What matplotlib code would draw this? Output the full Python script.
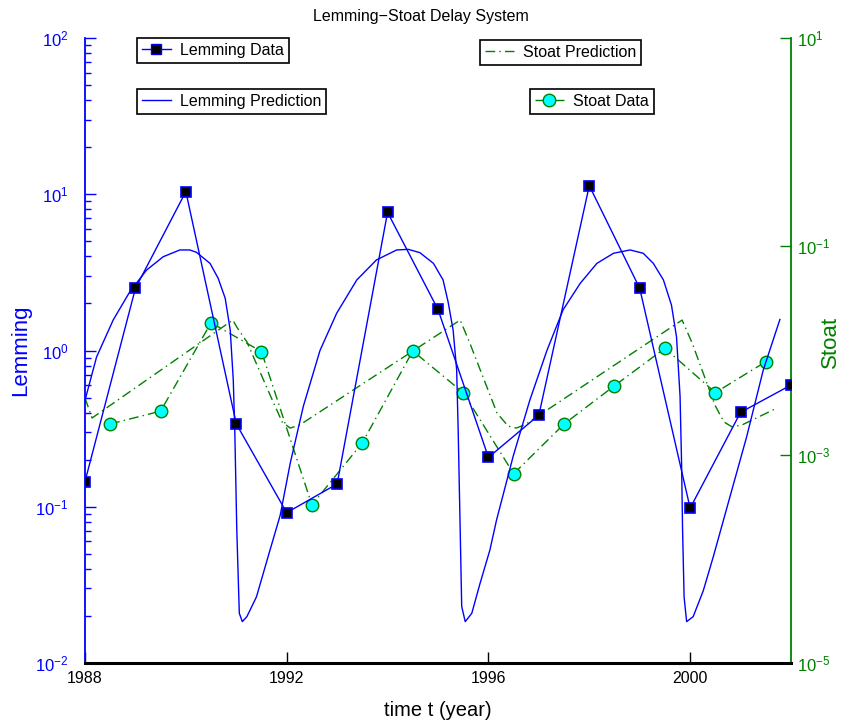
import matplotlib
matplotlib.use("Agg")
import matplotlib.pyplot as plt
from matplotlib.lines import Line2D
from matplotlib.ticker import FixedLocator, FixedFormatter, NullLocator, NullFormatter, LogLocator

plt.rcParams["font.family"] = ["Liberation Sans", "DejaVu Sans"]
plt.rcParams["mathtext.fontset"] = "custom"
plt.rcParams["mathtext.rm"] = "Liberation Sans"
plt.rcParams["mathtext.it"] = "Liberation Sans:italic"

# ---------------------------------------------------
# data
# ---------------------------------------------------
lemming_years = list(range(1988, 2003))
lemming_data = [0.145, 2.50, 10.4, 0.339, 0.0916, 0.140, 7.66, 1.83,
                0.207, 0.386, 11.35, 2.50, 0.098, 0.402, 0.601]

stoat_years = [1988.5 + i for i in range(14)]
stoat_data = [0.00197, 0.00262, 0.0185, 0.00975, 0.000329, 0.00130, 0.0099,
              0.00394, 0.000656, 0.00197, 0.00459, 0.0105, 0.00394, 0.00781]

lem_pred_t = [1988.00, 1988.23, 1988.56, 1988.89, 1989.22, 1989.55, 1989.88,
              1990.08, 1990.21, 1990.48, 1990.64, 1990.78, 1990.88, 1990.94,
              1990.97, 1991.01, 1991.06, 1991.12, 1991.21, 1991.40, 1991.67,
              1991.87, 1992.07, 1992.33, 1992.66, 1992.99, 1993.39, 1993.78,
              1994.18, 1994.41, 1994.64, 1994.91, 1995.10, 1995.20, 1995.30,
              1995.37, 1995.40, 1995.44, 1995.47, 1995.54, 1995.67, 1995.83,
              1996.03, 1996.16, 1996.49, 1996.82, 1997.16, 1997.48, 1997.82,
              1998.15, 1998.48, 1998.81, 1999.07, 1999.27, 1999.47, 1999.63,
              1999.73, 1999.80, 1999.83, 1999.85, 1999.88, 1999.93, 2000.06,
              2000.26, 2000.46, 2000.79, 2001.12, 2001.45, 2001.78]
lem_pred_v = [0.48, 0.91, 1.57, 2.38, 3.27, 3.98, 4.40,
              4.40, 4.25, 3.61, 2.90, 2.16, 1.35, 0.65,
              0.31, 0.071, 0.0208, 0.0184, 0.0198, 0.0265, 0.053,
              0.088, 0.19, 0.44, 1.00, 1.73, 2.83, 3.80,
              4.40, 4.44, 4.23, 3.61, 2.83, 2.05, 1.35,
              0.75, 0.31, 0.071, 0.023, 0.0184, 0.0208, 0.032,
              0.053, 0.082, 0.21, 0.48, 1.00, 1.82, 2.69,
              3.61, 4.19, 4.40, 4.19, 3.61, 2.83, 1.95,
              1.22, 0.51, 0.19, 0.071, 0.0265, 0.0184, 0.0198,
              0.029, 0.048, 0.116, 0.28, 0.75, 1.58]

stoat_pred_t = [1988.00, 1988.14, 1990.93, 1991.01, 1991.21, 1991.67, 1991.91,
                1992.07, 1992.26, 1995.44, 1995.63, 1996.17, 1996.39, 1996.55,
                1996.72, 1999.84, 2000.04, 2000.49, 2000.67, 2000.83, 2001.03,
                2001.72]
stoat_pred_v = [0.0035, 0.00225, 0.0196, 0.0168, 0.0121, 0.00374, 0.00206,
                0.0018, 0.00193, 0.0196, 0.0118, 0.00251, 0.00188, 0.0018,
                0.00193, 0.0196, 0.0118, 0.0030, 0.00206, 0.00185, 0.00193,
                0.0028]

x_ticks = [1988, 1992, 1996, 2000]
left_ticks = [1e-2, 1e-1, 1e0, 1e1, 1e2]
left_labels = [r"$\mathregular{10^{-2}}$", r"$\mathregular{10^{-1}}$",
               r"$\mathregular{10^{0}}$", r"$\mathregular{10^{1}}$",
               r"$\mathregular{10^{2}}$"]
right_ticks = [1e-5, 1e-3, 1e-1, 1e1]
right_labels = [r"$\mathregular{10^{-5}}$", r"$\mathregular{10^{-3}}$",
                r"$\mathregular{10^{-1}}$", r"$\mathregular{10^{1}}$"]

BLUE = (0, 0, 1)
GREEN = (0, 0.5, 0)
DASHDOT = (0, (7, 3, 1, 3))

# ---------------------------------------------------
# figure
# ---------------------------------------------------
fig = plt.figure(figsize=(8.41, 7.25), dpi=100)
ax = fig.add_axes([85 / 841, 1 - 663 / 725, 706 / 841, 625 / 725])
ax2 = ax.twinx()

# stoat (right axis)
ax2.plot(stoat_pred_t, stoat_pred_v, color=GREEN, lw=1.0, ls=DASHDOT)
ax2.plot(stoat_years, stoat_data, color=GREEN, lw=1.0, ls=DASHDOT,
         marker="o", mfc="cyan", mec=GREEN, ms=9)

# lemming (left axis), drawn on top
ax.set_zorder(ax2.get_zorder() + 1)
ax.patch.set_visible(False)
ax.plot(lem_pred_t, lem_pred_v, color=BLUE, lw=1.0)
ax.plot(lemming_years, lemming_data, color=BLUE, lw=1.0,
        marker="s", mfc="black", mec=BLUE, ms=7, mew=1.2)

ax.set_xlim(1988, 2002)
ax.set_yscale("log")
ax.set_ylim(1e-2, 1e2)
ax2.set_yscale("log")
ax2.set_ylim(1e-5, 1e1)

# ticks
ax.xaxis.set_major_locator(FixedLocator(x_ticks))
ax.tick_params(axis="x", direction="in", length=8, width=1, colors="black",
               labelsize=11.5, pad=6, top=False)
ax.yaxis.set_major_locator(FixedLocator(left_ticks))
ax.yaxis.set_major_formatter(FixedFormatter(left_labels))
ax.yaxis.set_minor_locator(LogLocator(base=10, subs=range(2, 10)))
ax.yaxis.set_minor_formatter(NullFormatter())
ax.tick_params(axis="y", which="major", direction="in", length=8, width=1,
               colors=BLUE, labelsize=12, pad=12)
ax.tick_params(axis="y", which="minor", direction="in", length=4, width=1,
               colors=BLUE)

ax2.yaxis.set_major_locator(FixedLocator(right_ticks))
ax2.yaxis.set_major_formatter(FixedFormatter(right_labels))
ax2.yaxis.set_minor_locator(NullLocator())
ax2.tick_params(axis="y", which="major", direction="in", length=8, width=1,
                colors=GREEN, labelsize=12, pad=4)

# spines
for s in ["top", "right"]:
    ax.spines[s].set_visible(False)
ax.spines["left"].set_color(BLUE)
ax.spines["left"].set_linewidth(1.3)
ax.spines["bottom"].set_color("black")
ax.spines["bottom"].set_linewidth(2.2)
for s in ["top", "left", "bottom"]:
    ax2.spines[s].set_visible(False)
ax2.spines["right"].set_color(GREEN)
ax2.spines["right"].set_linewidth(1.3)

# labels
ax.set_xlabel("time t (year)", fontsize=14.5)
ax.xaxis.set_label_coords(0.5, -(701 - 663) / 625)
ax.set_ylabel("Lemming", fontsize=16, color=BLUE)
ax.yaxis.set_label_coords((31 - 85) / 706, 0.5)
ax2.set_ylabel("Stoat", fontsize=16, color=GREEN)
ax2.yaxis.set_label_coords((820 - 85) / 706, (663 - 342) / 625)
fig.text(0.5, 1 - 17 / 725, "Lemming\u2212Stoat Delay System",
         ha="center", va="center", fontsize=11.5)

# ---------------------------------------------------
# four separate legend boxes
# ---------------------------------------------------
h_ld = Line2D([], [], color=BLUE, lw=1.0, marker="s", mfc="black",
              mec=BLUE, ms=7)
h_lp = Line2D([], [], color=BLUE, lw=1.0)
h_sp = Line2D([], [], color=GREEN, lw=1.0, ls=DASHDOT)
h_sd = Line2D([], [], color=GREEN, lw=1.0, ls=DASHDOT, marker="o",
              mfc="cyan", mec=GREEN, ms=9)

legend_specs = [
    (h_ld, "Lemming Data", (137, 38)),
    (h_lp, "Lemming Prediction", (137, 89)),
    (h_sp, "Stoat Prediction", (480, 40)),
    (h_sd, "Stoat Data", (530, 89)),
]
for handle, text, (px, py) in legend_specs:
    leg = fig.legend([handle], [text], loc="upper left",
                     bbox_to_anchor=(px / 841, 1 - py / 725),
                     fontsize=11.5, frameon=True, fancybox=False,
                     edgecolor="black", framealpha=1, borderaxespad=0,
                     handlelength=1.8, handletextpad=0.6, borderpad=0.3)
    leg.get_frame().set_linewidth(1.2)

plt.savefig("out.png", dpi=100)
